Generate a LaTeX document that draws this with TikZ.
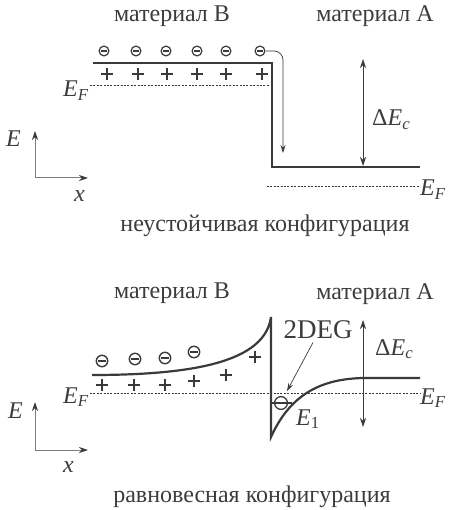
\documentclass[tikz,border=0pt]{standalone}
\usepackage{fontspec}
\setmainfont{Liberation Serif}
\usetikzlibrary{arrows.meta}
\definecolor{cBand}{RGB}{58,58,58}
\definecolor{cText}{RGB}{60,60,60}
\definecolor{cAxis}{RGB}{125,125,125}
\newcommand{\EF}{\textit{E}\textsubscript{\textit{F}}}
\newcommand{\dEc}{Δ\textit{E}\textsubscript{\textit{c}}}
\tikzset{
  band/.style={line width=2.2pt, draw=cBand},
  fermi/.style={dashed, dash pattern=on 2pt off 1.4pt, line width=0.7pt, draw=cBand},
  lbl/.style={text=cText, inner sep=0pt},
  dbl/.style={line width=0.8pt, draw=cBand, {Stealth[length=9pt,width=6pt]}-{Stealth[length=9pt,width=6pt]}},
  axis/.style={line width=1pt, draw=cAxis, -{Stealth[length=9pt,width=6pt,color=cBand]}},
  thin/.style={line width=0.7pt, draw=cBand, -{Stealth[length=8pt,width=5pt]}},
  elec/.pic={\draw[line width=1.2pt, cBand] (0,0) circle (4.9pt);
             \draw[line width=2.2pt, cBand] (-3.3pt,0) -- (3.3pt,0);},
  elecbig/.pic={\draw[line width=1.4pt, cBand] (0,0) circle (5.7pt);
                \draw[line width=2.4pt, cBand] (-4pt,0) -- (4pt,0);},
  donor/.pic={\draw[line width=2.4pt, cBand] (-5.6pt,0) -- (5.6pt,0) (0,-5.6pt) -- (0,5.6pt);},
  donorbig/.pic={\draw[line width=2.6pt, cBand] (-6pt,0) -- (6pt,0) (0,-6pt) -- (0,6pt);}
}

\begin{document}
\begin{tikzpicture}[x=1pt, y=-1pt, font=\fontsize{24}{28}\selectfont]
  \useasboundingbox (0,0) rectangle (448,510);
  % upper panel: before equilibrium
  \node[lbl, anchor=base] (matB1) at (172,22) {материал В};
  \node[lbl, anchor=base] (matA1) at (375,22) {материал А};
  \draw[band] (93,63) -| (272,167) -- (420,167);
  \foreach \x/\xp in {104/107, 136/138, 166/167, 197/197, 226/226, 260/262} {
    \pic at (\x,51) {elec};
    \pic at (\xp,74) {donor};
  }
  \coordinate (eStart) at (266,51);
  \coordinate (eEnd) at (283,153);
  \draw[thin, rounded corners=9pt] (eStart) -| (eEnd);
  \node[lbl, anchor=base east] (EFl1) at (89,97) {\EF};
  \coordinate (fl1a) at (90,85);
  \coordinate (fl1b) at (270,85);
  \draw[fermi] (fl1a) -- (fl1b);
  \node[lbl, anchor=base west] (EFr1) at (420,196) {\EF};
  \coordinate (fr1a) at (267,186);
  \draw[fermi] (fr1a) -- (EFr1.west |- fr1a);
  \coordinate (dEa1) at (363,59);
  \coordinate (dEb1) at (363,166);
  \draw[dbl] (dEa1) -- (dEb1);
  \node[lbl, anchor=base west] (dE1) at (372,126) {\dEc};
  % axes
  \coordinate (o1) at (35,178);
  \coordinate (ey1) at (35,131);
  \coordinate (ex1) at (88,178);
  \draw[axis] (o1) -- (ey1);
  \draw[axis] (o1) -- (ex1);
  \node[lbl, anchor=base west] (E1ax) at (6,147) {\textit{E}};
  \node[lbl, anchor=base west] (x1ax) at (74,202) {\textit{x}};
  \node[lbl, anchor=base] (cap1) at (265,231) {неустойчивая конфигурация};

  % lower panel: equilibrium
  \node[lbl, anchor=base] (matB2) at (172,298) {материал В};
  \node[lbl, anchor=base] (matA2) at (375,299) {материал А};
  \draw[band] (92,375) .. controls (200,375) and (265,360) .. (271,317)
              -- (271,437) .. controls (290,395) and (320,379) .. (363,378) -- (420,378);
  \pic at (102,361) {elecbig};
  \pic at (135,359) {elecbig};
  \pic at (165,358) {elecbig};
  \pic at (194,352) {elecbig};
  \pic at (102,385) {donorbig};
  \pic at (134,385) {donorbig};
  \pic at (165,385) {donorbig};
  \pic at (194,381) {donorbig};
  \pic at (226,375) {donorbig};
  \pic at (255,357) {donorbig};
  \node[lbl, anchor=base east] (EFl2) at (89,403) {\EF};
  \node[lbl, anchor=base west] (EFr2) at (420,404) {\EF};
  \coordinate (f2a) at (90,393);
  \draw[fermi] (f2a) -- (EFr2.west |- f2a);
  % bound state E1
  \coordinate (lv1) at (271,403);
  \coordinate (lv2) at (292,403);
  \draw[line width=1.3pt, cBand] (lv1) -- (lv2);
  \draw[line width=1.3pt, cBand] (281,403) circle (6.4pt);
  \node[lbl, anchor=base west] (E1lv) at (296,425) {\textit{E}\textsubscript{1}};
  \node[lbl, anchor=base, font=\fontsize{27}{30}\selectfont] (deg) at (318,338) {2DEG};
  \coordinate (degTip) at (287,391);
  \draw[thin] (deg.south) ++(-5,4) -- (degTip);
  \coordinate (dEa2) at (363,320);
  \coordinate (dEb2) at (363,427);
  \draw[dbl] (dEa2) -- (dEb2);
  \node[lbl, anchor=base west] (dE2) at (375,355) {\dEc};
  % axes
  \coordinate (o2) at (35,450);
  \coordinate (ey2) at (35,402);
  \coordinate (ex2) at (88,450);
  \draw[axis] (o2) -- (ey2);
  \draw[axis] (o2) -- (ex2);
  \node[lbl, anchor=base west] (E2ax) at (8,418) {\textit{E}};
  \node[lbl, anchor=base west] (x2ax) at (63,472) {\textit{x}};
  \node[lbl, anchor=base] (cap2) at (252,502) {равновесная конфигурация};
\end{tikzpicture}
\end{document}
